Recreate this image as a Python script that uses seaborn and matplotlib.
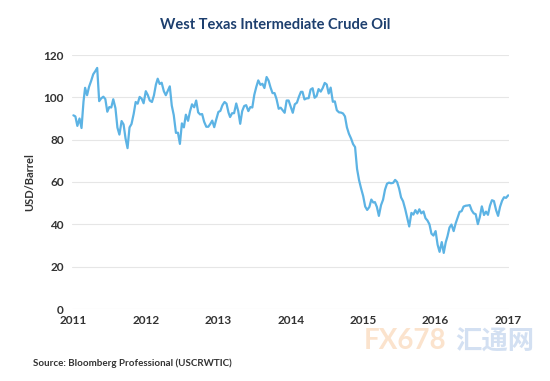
import pandas as pd
import numpy as np
import matplotlib
matplotlib.use("Agg")
import matplotlib.pyplot as plt
import seaborn as sns

# WTI price, USD/barrel (1st, 11th, 21st of each month)
wti_2011 = [91.5, 91.0, 86.5, 90.0, 85.5, 98.0, 104.5, 101.0, 105.0,
            107.9, 110.9, 112.3, 113.9, 98.2, 99.5, 100.3, 99.2, 93.2,
            95.4, 95.2, 99.1, 94.9, 85.7, 82.4, 88.8, 87.2, 80.5,
            76.0, 85.8, 87.4, 92.2, 97.8, 97.0, 100.2, 99.4, 97.2]
wti_2012 = [102.9, 101.1, 98.5, 97.8, 100.9, 106.0, 108.8, 106.3, 106.9,
            102.9, 101.0, 103.1, 105.2, 96.1, 91.6, 83.2, 83.3, 78.0,
            87.7, 85.8, 91.8, 88.9, 93.4, 96.7, 95.3, 98.5, 92.9,
            91.9, 92.1, 88.5, 86.1, 86.1, 87.4, 89.0, 85.9, 89.5]
wti_2013 = [93.1, 93.6, 96.2, 97.8, 97.0, 92.8, 90.7, 92.5, 92.5,
            97.1, 93.5, 87.5, 93.5, 95.9, 96.3, 93.5, 95.4, 95.2,
            101.2, 104.9, 108.0, 105.9, 106.4, 104.4, 109.6, 107.9, 104.6,
            102.0, 102.0, 99.2, 94.6, 95.1, 93.9, 92.7, 98.5, 98.5]
wti_2014 = [95.4, 92.7, 96.7, 97.5, 100.3, 102.6, 102.6, 99.0, 99.5,
            99.6, 103.7, 104.3, 99.8, 100.6, 103.9, 102.7, 104.4, 106.8,
            106.1, 101.8, 104.6, 97.9, 98.1, 93.9, 92.9, 92.8, 92.4,
            91.0, 85.8, 82.8, 80.5, 77.9, 76.5, 66.2, 60.9, 57.1]
wti_2015 = [53.3, 48.4, 46.8, 48.2, 51.7, 50.3, 50.5, 48.2, 44.0,
            49.1, 51.6, 56.4, 59.2, 59.7, 59.4, 59.6, 61.0, 60.0,
            56.9, 52.7, 50.9, 47.1, 43.1, 39.0, 45.4, 44.6, 46.7,
            45.1, 47.1, 45.2, 46.1, 42.9, 41.8, 40.0, 35.6, 34.7]
wti_2016 = [36.8, 30.4, 27.0, 31.6, 26.5, 31.5, 34.4, 38.5, 39.9,
            36.8, 40.4, 43.2, 45.9, 46.2, 48.4, 48.8, 48.9, 49.1,
            46.6, 45.2, 44.8, 40.1, 43.5, 48.5, 44.4, 46.0, 44.5,
            48.8, 51.4, 51.0, 46.7, 44.0, 48.3, 51.1, 52.8, 52.5]
wti_end = [53.7]

years = [2011, 2012, 2013, 2014, 2015, 2016]
year_ticks = [2011, 2012, 2013, 2014, 2015, 2016, 2017]
y_ticks = [0, 20, 40, 60, 80, 100, 120]

dates = [pd.Timestamp(y, m, d) for y in years for m in range(1, 13) for d in (1, 11, 21)]
dates.append(pd.Timestamp(2017, 1, 1))
prices = wti_2011 + wti_2012 + wti_2013 + wti_2014 + wti_2015 + wti_2016 + wti_end
df = pd.DataFrame({"date": dates, "price": prices})

sns.set_theme(style="white")
plt.rcParams["font.family"] = ["Lato", "Noto Sans CJK SC", "DejaVu Sans"]

LINE = "#5cb3e4"
NAVY = "#1d3f6e"
TXT = "#333333"
GRID = "#e6e6e6"

fig = plt.figure(figsize=(5.5, 3.81), dpi=100)
fig.patch.set_facecolor("white")
ax = fig.add_axes([72 / 550, 1 - 309 / 381, (509 - 72) / 550, (309 - 55) / 381])

for v in y_ticks:
    ax.axhline(v, color=GRID, lw=0.8, zorder=0)

sns.lineplot(data=df, x="date", y="price", color=LINE, lw=1.6, ax=ax)

ax.set_ylim(0, 120)
ax.set_xlim(pd.Timestamp(2010, 12, 25), pd.Timestamp(2017, 1, 5))
ax.set_yticks(y_ticks)
ax.set_yticklabels([str(v) for v in y_ticks], fontsize=8.5, color=TXT, fontweight="bold")
ax.set_xticks([pd.Timestamp(y, 1, 1) for y in year_ticks])
ax.set_xticklabels([str(y) for y in year_ticks], fontsize=8.5, color=TXT, fontweight="bold")
ax.tick_params(axis="both", length=0)
ax.tick_params(axis="y", pad=6)
ax.tick_params(axis="x", pad=4)
ax.set_xlabel("")
ax.set_ylabel("USD/Barrel", fontsize=8, color=TXT, fontweight="bold", labelpad=6)
for s in ax.spines.values():
    s.set_visible(False)

fig.text(0.5, 1 - 25 / 381, "West Texas Intermediate Crude Oil", ha="center", va="center",
         fontsize=10.5, fontweight="bold", color=NAVY)
fig.text(33 / 550, 1 - 363 / 381, "Source: Bloomberg Professional (USCRWTIC)", ha="left", va="center",
         fontsize=7, fontweight="bold", color=TXT)

# watermark
fig.text(364 / 550, 1 - 341 / 381, "FX678", ha="left", va="center", fontsize=20,
         color="#f2a35a", alpha=0.3, fontweight="bold")
fig.text(455 / 550, 1 - 341 / 381, "汇通网", ha="left", va="center", fontsize=19,
         color="#6f9ad6", alpha=0.3, fontweight="bold")

fig.savefig("out.png", dpi=100)
